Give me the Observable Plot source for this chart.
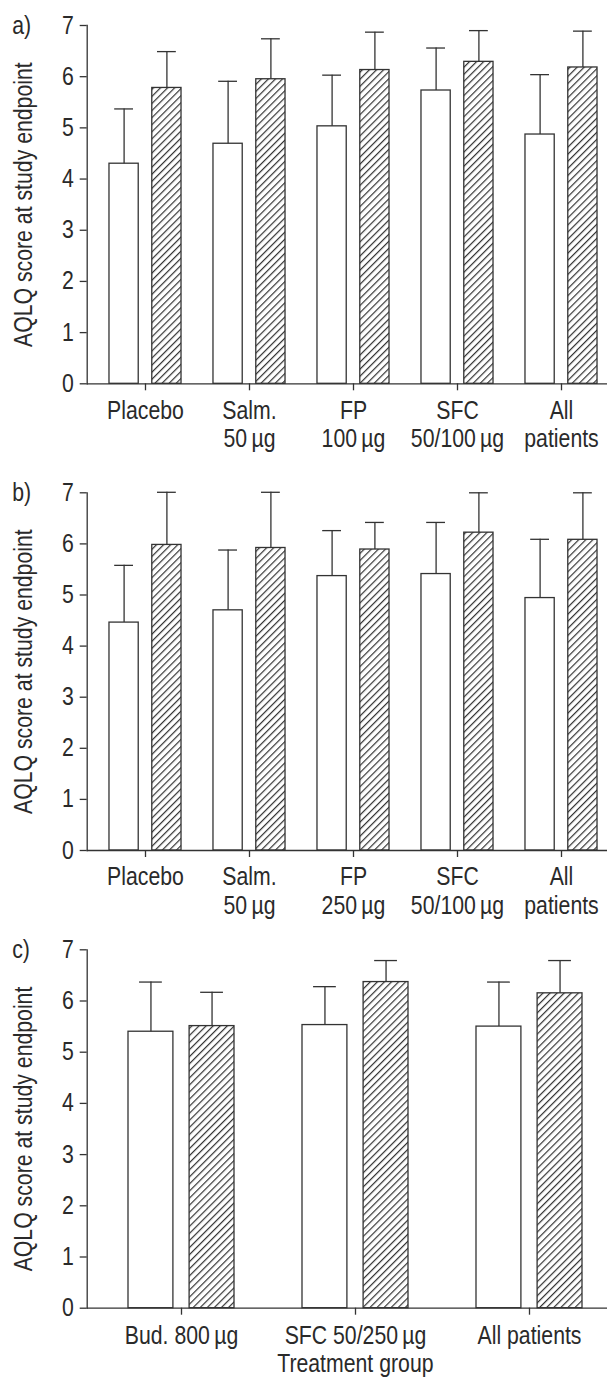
<!DOCTYPE html>
<html>
<head>
<meta charset="utf-8">
<script src="https://cdn.jsdelivr.net/npm/d3@7"></script>
<script src="https://cdn.jsdelivr.net/npm/@observablehq/plot@0.6"></script>
<style>
  html, body { margin: 0; padding: 0; background: #fff; }
  #wrap { position: relative; width: 607px; height: 1378px; overflow: hidden; }
  .panel { position: absolute; left: 0; }
</style>
</head>
<body>
<div id="wrap"></div>
<script>
// ---------- DATA ----------
// Panel a
const catsA = ["Placebo", "Salm.\n50\u2009µg", "FP\n100\u2009µg", "SFC\n50/100\u2009µg", "All\npatients"];
const openA = [4.30, 4.69, 5.03, 5.73, 4.87];
const openErrA = [5.37, 5.91, 6.03, 6.56, 6.04];
const hatchA = [5.78, 5.95, 6.13, 6.29, 6.18];
const hatchErrA = [6.49, 6.74, 6.87, 6.90, 6.89];

// Panel b
const catsB = ["Placebo", "Salm.\n50\u2009µg", "FP\n250\u2009µg", "SFC\n50/100\u2009µg", "All\npatients"];
const openB = [4.46, 4.70, 5.37, 5.41, 4.94];
const openErrB = [5.58, 5.88, 6.26, 6.42, 6.09];
const hatchB = [5.98, 5.92, 5.89, 6.22, 6.08];
const hatchErrB = [7.01, 7.01, 6.42, 7.00, 7.00];

// Panel c
const catsC = ["Bud. 800\u2009µg", "SFC 50/250\u2009µg", "All patients"];
const openC = [5.40, 5.53, 5.50];
const openErrC = [6.37, 6.28, 6.37];
const hatchC = [5.51, 6.37, 6.15];
const hatchErrC = [6.17, 6.79, 6.79];

const yTicks = [0, 1, 2, 3, 4, 5, 6, 7];
const yLabel = "AQLQ score at study endpoint";
const xLabelC = "Treatment group";
const letters = ["a)", "b)", "c)"];

// ---------- STYLE ----------
const FONT = '"Liberation Sans", Arial, Helvetica, sans-serif';
const FS = 25;
const CONDENSE = 0.85;   // horizontal squeeze to imitate a condensed face
const INK = "#2a2a2a";
const LINE = "#333";
const SW = 1.3;
const W = 607;
const ML = 86.7;

const wrap = document.getElementById("wrap");

// hatch pattern defs
const defs = d3.select(wrap).append("svg")
  .attr("width", 0).attr("height", 0)
  .style("position", "absolute")
  .append("defs");
const pat = defs.append("pattern")
  .attr("id", "hatch")
  .attr("patternUnits", "userSpaceOnUse")
  .attr("width", 5.0).attr("height", 10)
  .attr("patternTransform", "rotate(45)");
pat.append("rect").attr("width", 5.0).attr("height", 10).attr("fill", "white");
pat.append("line").attr("x1", 0.6).attr("x2", 0.6).attr("y1", 0).attr("y2", 10)
  .attr("stroke", LINE).attr("stroke-width", 1.2);

function condense(svg, k) {
  svg.querySelectorAll("text").forEach(t => {
    const spans = t.querySelectorAll("tspan");
    const targets = spans.length ? Array.from(spans) : [t];
    targets.forEach(el => {
      const L = el.getComputedTextLength();
      if (L > 0) {
        el.setAttribute("textLength", (L * k).toFixed(2));
        el.setAttribute("lengthAdjust", "spacingAndGlyphs");
      }
    });
  });
}

function makePanel(cfg) {
  const rows = cfg.cats.map((c, i) => ({
    cat: c, open: cfg.open[i], openErr: cfg.openErr[i], hatch: cfg.hatch[i], hatchErr: cfg.hatchErr[i]
  }));
  const n = cfg.cats.length;
  const step = (cfg.range[1] - cfg.range[0]) / n;
  const half = step / 2;
  const g = cfg.gap, bw = cfg.barW, cw = cfg.capW;
  const oc = -(g + bw / 2), hc = g + bw / 2; // bar centre offsets
  const marks = [
    Plot.barY(rows, {x: "cat", y: "open", fill: "white", stroke: LINE, strokeWidth: SW,
      insetLeft: half - (g + bw), insetRight: half + g}),
    Plot.barY(rows, {x: "cat", y: "hatch", fill: "url(#hatch)", stroke: LINE, strokeWidth: SW,
      insetLeft: half + g, insetRight: half - (g + bw)}),
    Plot.ruleX(rows, {x: "cat", y1: "open", y2: "openErr", dx: oc, stroke: LINE, strokeWidth: SW}),
    Plot.ruleX(rows, {x: "cat", y1: "hatch", y2: "hatchErr", dx: hc, stroke: LINE, strokeWidth: SW}),
    Plot.tickY(rows, {x: "cat", y: "openErr", stroke: LINE, strokeWidth: SW,
      insetLeft: half + oc - cw / 2, insetRight: half - oc - cw / 2}),
    Plot.tickY(rows, {x: "cat", y: "hatchErr", stroke: LINE, strokeWidth: SW,
      insetLeft: half + hc - cw / 2, insetRight: half - hc - cw / 2}),
    Plot.ruleY([0], {stroke: LINE, strokeWidth: SW}),
    Plot.frame({anchor: "left", stroke: LINE, strokeWidth: SW}),
    Plot.axisY({ticks: yTicks, tickFormat: "d", tickSize: 7, tickPadding: 6.4, stroke: LINE, strokeWidth: SW,
      fill: INK, fontSize: FS, label: null}),
    Plot.axisX({tickSize: 7, tickPadding: cfg.tickPad, stroke: LINE, strokeWidth: SW,
      fill: INK, fontSize: FS, lineHeight: 1.14, label: null}),
    Plot.text([yLabel], {frameAnchor: "left", rotate: -90, dx: -62.7, textAnchor: "middle", lineAnchor: "middle",
      fontSize: FS, fill: INK}),
    Plot.text([cfg.letter], {frameAnchor: "top-left", dx: -75, textAnchor: "start", lineAnchor: "middle",
      fontSize: FS, fill: INK})
  ];
  if (cfg.xTitle) {
    marks.push(Plot.text([cfg.xTitle], {frameAnchor: "bottom", dx: 8, dy: 46.5, textAnchor: "middle", lineAnchor: "top",
      fontSize: FS, fill: INK}));
  }
  const svg = Plot.plot({
    width: W,
    height: cfg.height,
    marginTop: cfg.mt,
    marginBottom: cfg.mb,
    marginLeft: ML,
    marginRight: 0,
    style: {fontFamily: FONT, fontSize: FS + "px", color: INK, background: "transparent", overflow: "visible"},
    x: {type: "band", domain: cfg.cats, range: cfg.range, padding: 0, label: null},
    y: {domain: [0, 7], label: null},
    marks
  });
  const div = document.createElement("div");
  div.className = "panel";
  div.style.top = cfg.top + "px";
  div.appendChild(svg);
  wrap.appendChild(div);
  condense(svg, CONDENSE);
}

makePanel({letter: letters[0], cats: catsA, open: openA, openErr: openErrA, hatch: hatchA, hatchErr: hatchErrA,
  top: 0, height: 460, mt: 25, mb: 76.7, range: [92.3, 613.1], barW: 29.4, gap: 6.7, capW: 19, tickPad: 7.6});
makePanel({letter: letters[1], cats: catsB, open: openB, openErr: openErrB, hatch: hatchB, hatchErr: hatchErrB,
  top: 460, height: 460, mt: 32.3, mb: 70, range: [92.3, 613.1], barW: 29.4, gap: 6.7, capW: 19, tickPad: 7.6});
makePanel({letter: letters[2], cats: catsC, open: openC, openErr: openErrC, hatch: hatchC, hatchErr: hatchErrC,
  top: 920, height: 458, mt: 29.3, mb: 70.3, range: [93.5, 617.3], barW: 45.5, gap: 7.8, capW: 23.4, tickPad: 8.6,
  xTitle: xLabelC});
</script>
</body>
</html>
